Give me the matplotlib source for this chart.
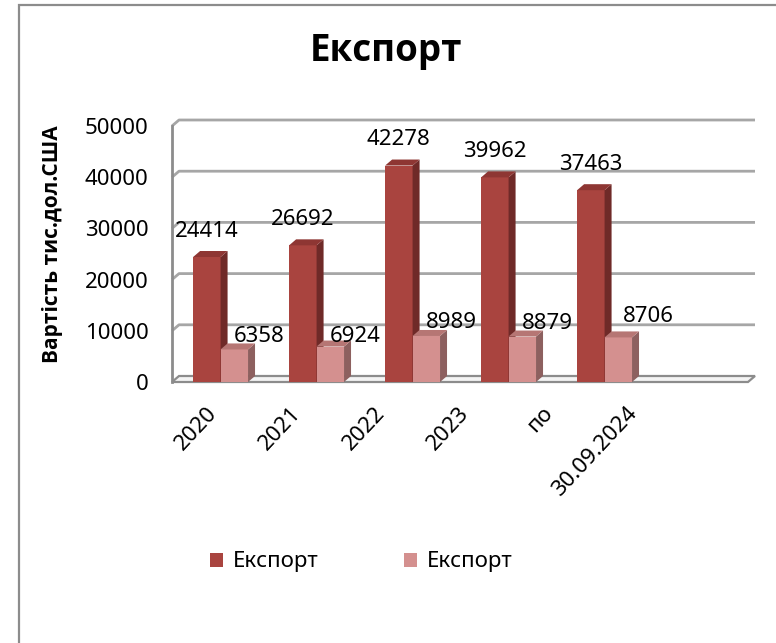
import matplotlib
matplotlib.use('Agg')
import matplotlib.pyplot as plt
from matplotlib.patches import Polygon, Rectangle
import numpy as np

categories = ["2020", "2021", "2022", "2023", "по", "30.09.2024"]
export_a = [24414, 26692, 42278, 39962, 37463]
export_b = [6358, 6924, 8989, 8879, 8706]
series_names = ["Експорт", "Експорт"]
yticks = [0, 10000, 20000, 30000, 40000, 50000]

plt.rcParams['font.family'] = ['Noto Sans', 'DejaVu Sans']
bold_family = ['Open Sans', 'Liberation Sans', 'DejaVu Sans']

W, H = 776, 643
fig = plt.figure(figsize=(W / 100, H / 100), dpi=100)
fig.patch.set_facecolor('white')

# outer frame
fig.add_artist(Rectangle((19 / W, -0.1), 1.2, 1 - 5 / H + 0.1, transform=fig.transFigure,
                         fill=False, ec='#8c8c8c', lw=1.6))

L, R, B, T = 172, 748, 382, 126
ax = fig.add_axes([L / W, 1 - B / H, (R - L) / W, (B - T) / H])
ncat = len(categories)
ymax = yticks[-1]
ax.set_xlim(0, ncat)
ax.set_ylim(0, ymax)
for s in ax.spines.values():
    s.set_visible(False)
ax.patch.set_visible(False)

px_x = ncat / (R - L)
px_y = ymax / (B - T)
DX = 7 * px_x
DY = 6 * px_y

grid_c = '#a6a6a6'
axis_c = '#8c8c8c'

# floor
ax.add_patch(Polygon([(0, 0), (ncat, 0), (ncat + DX, DY), (DX, DY)], closed=True,
                     fc='#f4f4f4', ec=axis_c, lw=1.6, clip_on=False, zorder=1))
# gridlines on side and back wall
for v in yticks[1:]:
    ax.plot([0, DX, ncat + DX], [v, v + DY, v + DY], color=grid_c, lw=2,
            clip_on=False, zorder=1, solid_capstyle='butt')
# left wall front edge
ax.plot([0, 0], [0, ymax], color=axis_c, lw=2, clip_on=False, zorder=2)

dark_front, dark_side, dark_top = '#a9443f', '#6f2a28', '#8e3633'
light_front, light_side, light_top = '#d4908f', '#8d605f', '#b67674'

bw = 0.286
xa = np.arange(len(export_a)) + 0.22
xb = xa + bw


def faces(x0, h, side, top, z):
    ax.add_patch(Polygon([(x0 + bw, 0), (x0 + bw + DX, DY), (x0 + bw + DX, h + DY), (x0 + bw, h)],
                         closed=True, fc=side, ec='none', zorder=z, clip_on=False))
    ax.add_patch(Polygon([(x0, h), (x0 + DX, h + DY), (x0 + bw + DX, h + DY), (x0 + bw, h)],
                         closed=True, fc=top, ec='none', zorder=z, clip_on=False))


for i in range(len(export_a)):
    z = 3 + 2 * i
    ax.bar(xa[i], export_a[i], width=bw, align='edge', color=dark_front, zorder=z,
           label=series_names[0] if i == 0 else None)
    faces(xa[i], export_a[i], dark_side, dark_top, z)
    ax.bar(xb[i], export_b[i], width=bw, align='edge', color=light_front, zorder=z + 1,
           label=series_names[1] if i == 0 else None)
    faces(xb[i], export_b[i], light_side, light_top, z + 1)

lab_fs = 16
light_dy = [13, 10, 13, 13, 21]
light_dx = [25, 25, 25, 25, 30]
for i in range(len(export_a)):
    ax.annotate(str(export_a[i]), (xa[i] + bw / 2, export_a[i]), xytext=(0, 26),
                textcoords='offset pixels', ha='center', va='center', fontsize=lab_fs,
                zorder=30)
    ax.annotate(str(export_b[i]), (xb[i] + bw / 2, export_b[i]), xytext=(light_dx[i], light_dy[i]),
                textcoords='offset pixels', ha='center', va='center', fontsize=lab_fs,
                zorder=30)

# y ticks
ax.set_yticks(yticks)
ax.set_yticklabels([str(v) for v in yticks], fontsize=lab_fs)
ax.tick_params(axis='y', length=0, pad=17)

# x ticks (Excel 3D label placement)
tick_pos = [(34 + 84 * i) / 96 for i in range(ncat)]
ax.set_xticks(tick_pos)
ax.set_xticklabels(categories, fontsize=lab_fs, rotation=47, ha='right', va='top',
                   rotation_mode='anchor')
ax.tick_params(axis='x', length=0, pad=15)

# axis label
fig.text(53 / W, 1 - 244 / H, 'Вартість тис.дол.США', rotation=90, ha='center', va='center',
         fontsize=15, fontweight='bold', family=bold_family)

# title
fig.text(386 / W, 1 - 61 / H, 'Експорт', ha='center', va='baseline', fontsize=26.5,
         fontweight='bold', family=bold_family)

# legend
handles, labels = ax.get_legend_handles_labels()
fig.legend(handles, labels, ncol=2, loc='center left', bbox_to_anchor=(210 / W, 1 - 562 / H),
           frameon=False, fontsize=lab_fs, handlelength=0.6, handleheight=0.6,
           handletextpad=0.45, columnspacing=3.8, borderpad=0, borderaxespad=0)

fig.savefig('out.png', dpi=100, facecolor='white')
